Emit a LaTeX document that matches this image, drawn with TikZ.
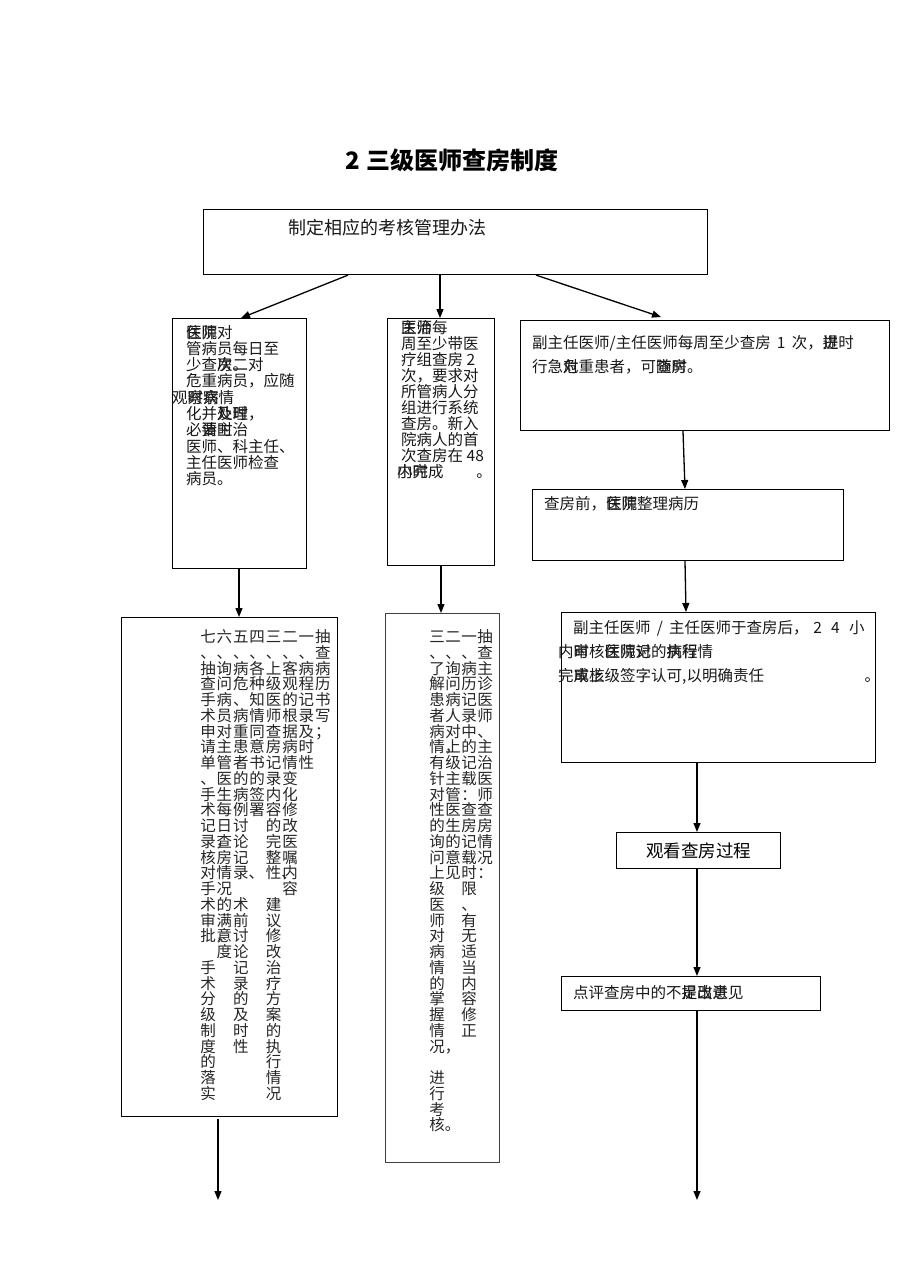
\documentclass[tikz,border=0pt]{standalone}
\usepackage{fontspec}
\setmainfont{Noto Sans CJK SC}
\usetikzlibrary{arrows.meta}
\makeatletter
\def\vt@end{}
\def\vt@endm{\vt@end}
\newcommand\vcol[1]{\vtop{\baselineskip=15.75pt\lineskiplimit=-100pt\lineskip=0pt\vt@loop#1\vt@end}}
\def\vt@loop#1{\def\@tempa{#1}\ifx\@tempa\vt@endm\else\hbox to 16pt{\hss#1\hss}\expandafter\vt@loop\fi}
\makeatother
\newcommand\ov[2]{\rlap{#1}#2}
\newcommand\hlines[2]{\vtop{\baselineskip=#1\lineskiplimit=-100pt\lineskip=0pt #2}}
\tikzset{
  box/.style={draw, line width=1.1pt, inner sep=0pt, anchor=north west},
  arr/.style={-{Triangle[length=9pt,width=7pt]}, line width=1.3pt},
  txt/.style={inner sep=0pt, anchor=base west, font=\fontsize{15.5}{15.5}\selectfont, text=black!90},
  vc/.style={inner sep=0pt, anchor=base, font=\fontsize{15.5}{15.5}\selectfont, text=black!85},
}
\begin{document}
\begin{tikzpicture}[x=1pt,y=-1pt]
\useasboundingbox[fill=white] (0,0) rectangle (905,1280);
% title
\node[inner sep=0pt, font=\fontsize{24}{24}\selectfont\bfseries] (title) at (452,160) {2\hspace{0.3em}三级医师查房制度};
% boxes
\node[box, minimum width=504pt, minimum height=65pt] (top) at (203,209) {};
\node[box, minimum width=134pt, minimum height=250pt] (b1) at (172,318) {};
\node[box, minimum width=107pt, minimum height=247pt] (b2) at (387,318) {};
\node[box, minimum width=369pt, minimum height=110pt] (b3) at (520,320) {};
\node[box, minimum width=311pt, minimum height=71pt] (b4) at (532,489) {};
\node[box, minimum width=314pt, minimum height=150pt] (b5) at (561,612) {};
\node[box, minimum width=164pt, minimum height=36pt] (b6) at (616,832) {};
\node[box, minimum width=259pt, minimum height=34pt] (b7) at (561,976) {};
\node[box, minimum width=216pt, minimum height=499pt] (bA) at (121,617) {};
\node[box, line width=0.8pt, draw=black!75, minimum width=114pt, minimum height=549pt] (bB) at (385,613) {};
% texts
\node[txt, font=\fontsize{18}{18}\selectfont] (ttop) at (288,234) {制定相应的考核管理办法};
\node[txt] (t1) at (186,338) {\hlines{16.3pt}{%
  \hbox{\ov{住院}{医师}对}\hbox{管病员每日至}\hbox{少查\ov{房}{次}\ov{。}{二}对}%
  \hbox{危重病员，应随}\hbox{\hspace*{-14pt}观\ov{察}{时}\ov{病}{察}情}\hbox{化并\ov{及}{处}\ov{时}{理}，}%
  \hbox{必\ov{要}{请}\ov{时}{主}治}\hbox{医师、科主任、}\hbox{主任医师检查}\hbox{病员。}}};
\node[txt] (t2) at (401,333) {\hlines{16pt}{%
  \hbox{\ov{主}{医}\ov{治}{师}每}\hbox{周至少带医}\hbox{疗组查房 2}\hbox{次，要求对}%
  \hbox{所管病人分}\hbox{组进行系统}\hbox{查房。新入}\hbox{院病人的首}\hbox{次查房在 48}%
  \hbox{\hspace*{-4pt}\ov{小}{内}\ov{时}{完}成\hspace{2.1em}。}}};
\node[txt] (t3) at (532,348) {\hlines{24pt}{%
  \hbox{副主任医师/主任医师每周至少查房\hspace{0.4em}1\hspace{0.4em}次，\ov{提}{进}时}%
  \hbox{行急\ov{对}{危}重患者，可\ov{随}{查}\ov{时}{房}。}}};
\node[txt] (t4) at (544,509) {查房前，\ov{住院}{医师}整理病历};
\node[txt] (t5) at (558,633) {\hlines{24pt}{%
  \hbox{\hspace*{15pt}副主任医师\hspace{0.4em}/\hspace{0.4em}主任医师于查房后，\hspace{0.3em}2\hspace{0.6em}4\hspace{0.6em}小}%
  \hbox{内\ov{时}{审}核\ov{住院}{医师}\ov{对}{记}的\ov{执}{病}\ov{行}{程}情}%
  \hbox to 322pt{完\ov{成}{审}\ov{上}{核}级签字认可,以明确责任\hfill 。}}};
\node[inner sep=0pt, font=\fontsize{17.5}{17.5}\selectfont] (t6) at (b6.center) {观看查房过程};
\node[txt] (t7) at (573,998) {点评查房中的不\ov{足}{提}\ov{出}{改}\ov{进}{意}见};
% vertical columns, box A
\node[vc] (a7) at (208,642.7) {\vcol{七、抽查手术申请单、手术记{录\rlap{，}}核对手术审{批\rlap{，}}{}手术分级制度的落实}};
\node[vc] (a6) at (224.4,642.7) {\vcol{六、询问病员对主管医生每日查房情况的满意度}};
\node[vc] (a5) at (240.8,642.7) {\vcol{五、病危、病重患者的病例讨论记{录\rlap{、}}{}术前讨论记录的及时性}};
\node[vc] (a4) at (257.2,642.7) {\vcol{四、各种知情同意书的签署}};
\node[vc] (a3) at (273.6,642.7) {\vcol{三、上级医师查房记录内容的完整{性\rlap{、}}{}建议修改治疗方案的执行情况}};
\node[vc] (a2) at (290,642.7) {\vcol{二、客观的根据病情变化修改医嘱内容}};
\node[vc] (a1) at (306.4,642.7) {\vcol{一、病程记录及时性}};
\node[vc] (a0) at (322.8,642.7) {\vcol{抽查病历书写；}};
% vertical columns, box B
\node[vc] (c3) at (437,642.7) {\vcol{三、了解患者病{情\rlap{，}}有针对性的询问上级医师对病情的掌握情{况\rlap{，}}{}进行考{核\rlap{。}}}};
\node[vc] (c2) at (453,642.7) {\vcol{二、询问病人对上级主管医生的意见}};
\node[vc] (c1) at (469,642.7) {\vcol{一、病历记录中的记载：查房记载时限、有无适当内容修正}};
\node[vc] (c0) at (485,642.7) {\vcol{抽查主诊医师、主治医师查房情况：}};
% end coordinates
\coordinate (e1) at (218,1200);
\coordinate (e2) at (697,1200);
% connectors
\draw[arr] ([xshift=145pt]top.south west) -- ([xshift=69pt]b1.north west);
\draw[arr] ([xshift=237pt]top.south west) -- ([xshift=53pt]b2.north west);
\draw[arr] ([xshift=333pt]top.south west) -- ([xshift=141pt,yshift=3pt]b3.north west);
\draw[arr] ([xshift=163pt]b3.south west) -- ([xshift=153pt]b4.north west);
\draw[arr] ([xshift=153pt]b4.south west) -- ([xshift=125pt]b5.north west);
\draw[arr] ([xshift=136pt]b5.south west) -- ([xshift=81pt]b6.north west);
\draw[arr] ([xshift=81pt]b6.south west) -- ([xshift=136pt]b7.north west);
\draw[arr] ([xshift=136pt]b7.south west) -- (e2);
\draw[arr] ([xshift=67pt]b1.south west) -- ([xshift=118pt]bA.north west);
\draw[arr] ([xshift=54pt]b2.south west) -- ([xshift=56pt]bB.north west);
\draw[arr] ([xshift=97pt,yshift=-2pt]bA.south west) -- (e1);
\end{tikzpicture}
\end{document}
